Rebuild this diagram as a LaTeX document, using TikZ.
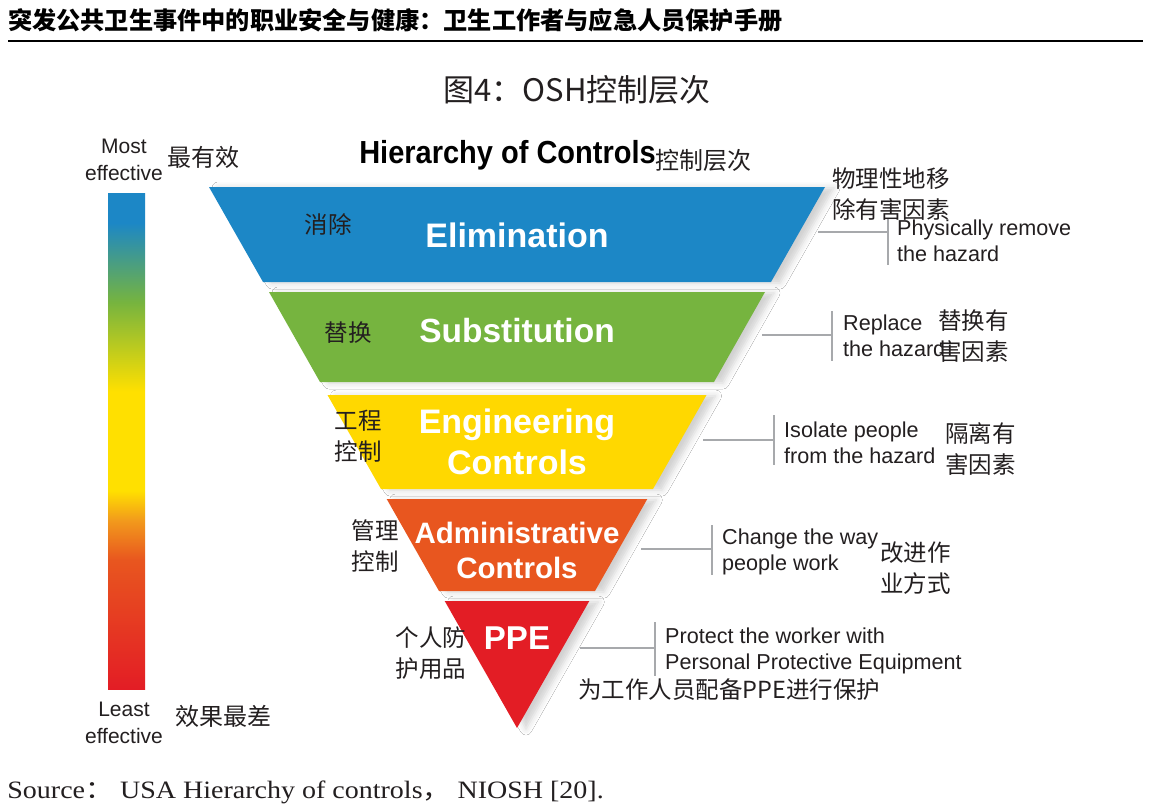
\documentclass[tikz,border=0pt]{standalone}
\usepackage{fontspec}
\setmainfont{Liberation Sans}
\newfontfamily\cjk{Noto Sans CJK SC}
\newfontfamily\serifrm{Liberation Serif}
\usetikzlibrary{shadows.blur}

\definecolor{elimblue}{HTML}{1C87C6}
\definecolor{subgreen}{HTML}{76B43F}
\definecolor{enyellow}{HTML}{FFD800}
\definecolor{adorange}{HTML}{E8561F}
\definecolor{ppered}{HTML}{E31D25}
\definecolor{barorange}{HTML}{F29A1C}
\definecolor{baryellow}{HTML}{FFE000}
\definecolor{linegray}{HTML}{A7A9AC}
\definecolor{txt}{HTML}{231F20}

\pgfdeclareverticalshading{effbar}{100bp}{%
 color(0bp)=(ppered); color(25bp)=(ppered); color(38bp)=(adorange);
 color(42bp)=(barorange); color(45bp)=(baryellow); color(55bp)=(baryellow);
 color(64bp)=(subgreen); color(72bp)=(elimblue); color(100bp)=(elimblue)}

\tikzset{
  band/.style={blur shadow={shadow xshift=9pt, shadow yshift=-1pt, shadow blur radius=6pt, shadow opacity=18}},
  bandtext/.style={text=white, font=\bfseries\fontsize{#1}{#1}\selectfont, inner sep=0pt, align=center},
  cjklbl/.style={text=txt, font=\cjk\fontsize{23.5}{31}\selectfont, inner sep=0pt, align=left},
  enlbl/.style={text=txt, font=\fontsize{21.6}{26.5}\selectfont, inner sep=0pt, align=left, anchor=west},
  conn/.style={draw=linegray, line width=1.8pt},
}

\begin{document}
\begin{tikzpicture}[x=1pt,y=-1pt]
\useasboundingbox (0,0) rectangle (1152,811);
\fill[white] (0,0) rectangle (1152,811);

% header
\node[anchor=west, inner sep=0pt, text=black, font=\cjk\bfseries\fontsize{24.2}{25}\selectfont] (header) at (8,20)
  {突发公共卫生事件中的职业安全与健康：卫生工作者与应急人员保护手册};
\coordinate (hl1) at (8,41);
\coordinate (hl2) at (1143,41);
\draw[line width=2pt, black] (hl1) -- (hl2);

% title
\node[inner sep=0pt, text=txt, font=\cjk\fontsize{31}{32}\selectfont] (title) at (577,90) {图4：OSH控制层次};

% gradient bar
\shade[shading=effbar] (108,193) rectangle (145,689);
\node[inner sep=0pt, text=txt, font=\fontsize{21}{27}\selectfont, align=center] (most) at (124,160) {Most\\effective};
\node[cjklbl, font=\cjk\fontsize{24}{24}\selectfont, anchor=west] (mostcn) at (167,157) {最有效};
\node[inner sep=0pt, text=txt, font=\fontsize{21}{27}\selectfont, align=center] (least) at (124,723) {Least\\effective};
\node[cjklbl, font=\cjk\fontsize{24}{24}\selectfont, anchor=west] (leastcn) at (175,716) {效果最差};

% heading
\node[inner sep=0pt, text=black, font=\bfseries\fontsize{29}{29}\selectfont, anchor=east, yscale=1.1, transform shape] (hier) at (656,155) {Hierarchy of Controls};
\node[cjklbl, font=\cjk\fontsize{24}{24}\selectfont, anchor=west] (hiercn) at (655,160) {控制层次};

% bands
\fill[elimblue, band] (209,187) -- (825,187) -- (771,282) -- (263,282) -- cycle;
\fill[subgreen, band] (269,292) -- (765,292) -- (714,382) -- (320,382) -- cycle;
\fill[enyellow, band] (327.5,395) -- (706.5,395) -- (653,489) -- (381,489) -- cycle;
\fill[adorange, band] (386.7,499) -- (647.3,499) -- (595,591) -- (439,591) -- cycle;
\fill[ppered, band] (444.7,601) -- (589.3,601) -- (517,728) -- cycle;

\node[bandtext=34] (elim) at (517,235) {Elimination};
\node[bandtext=33.5] (subst) at (517,331) {Substitution};
\node[bandtext=34, font=\bfseries\fontsize{34}{41}\selectfont] (eng) at (517,442) {Engineering\\Controls};
\node[bandtext=29.5, font=\bfseries\fontsize{29.5}{35}\selectfont] (adm) at (517,550) {Administrative\\Controls};
\node[bandtext=33] (ppe) at (517,638) {PPE};

% left chinese labels
\node[cjklbl] (elimcn) at (328,224) {消除};
\node[cjklbl] (substcn) at (348,333) {替换};
\node[cjklbl] (engcn) at (358,436) {工程\\控制};
\node[cjklbl] (admcn) at (375,546) {管理\\控制};
\node[cjklbl] (ppecn) at (431,653) {个人防\\护用品};

% connectors
\coordinate (c1a) at (818,232); \coordinate (c1b) at (888,232);
\coordinate (c1t) at (888,218); \coordinate (c1u) at (888,265);
\draw[conn] (c1a) -- (c1b); \draw[conn] (c1t) -- (c1u);
\coordinate (c2a) at (762,335); \coordinate (c2b) at (832,335);
\coordinate (c2t) at (832,311); \coordinate (c2u) at (832,361);
\draw[conn] (c2a) -- (c2b); \draw[conn] (c2t) -- (c2u);
\coordinate (c3a) at (703,440); \coordinate (c3b) at (774,440);
\coordinate (c3t) at (774,415); \coordinate (c3u) at (774,465);
\draw[conn] (c3a) -- (c3b); \draw[conn] (c3t) -- (c3u);
\coordinate (c4a) at (641,549); \coordinate (c4b) at (712,549);
\coordinate (c4t) at (712,525); \coordinate (c4u) at (712,575);
\draw[conn] (c4a) -- (c4b); \draw[conn] (c4t) -- (c4u);
\coordinate (c5a) at (580,648); \coordinate (c5b) at (655,648);
\coordinate (c5t) at (655,622); \coordinate (c5u) at (655,676);
\draw[conn] (c5a) -- (c5b); \draw[conn] (c5t) -- (c5u);

% right english labels
\node[enlbl] (elimen) at (897,241) {Physically remove\\the hazard};
\node[enlbl] (substen) at (843,336) {Replace\\the hazard};
\node[enlbl] (engen) at (784,443) {Isolate people\\from the hazard};
\node[enlbl] (admen) at (722,552) {Change the way\\people work};
\node[enlbl] (ppeen) at (665,651) {Protect the worker with\\Personal Protective Equipment};

% right chinese labels
\node[cjklbl, anchor=west] (elimcn2) at (832,194) {物理性地移\\除有害因素};
\node[cjklbl, anchor=west] (substcn2) at (938,336) {替换有\\害因素};
\node[cjklbl, anchor=west] (engcn2) at (945,449) {隔离有\\害因素};
\node[cjklbl, anchor=west] (admcn2) at (880,568) {改进作\\业方式};
\node[cjklbl, anchor=west] (ppecn2) at (578,690) {为工作人员配备PPE进行保护};

% source
\node[anchor=west, inner sep=0pt, text=txt, font=\serifrm\fontsize{25}{26}\selectfont, xscale=1.12, transform shape] (source) at (7.2,792)
  {Source{\cjk ：} USA Hierarchy of controls{\cjk ，} NIOSH [20].};
\end{tikzpicture}
\end{document}
